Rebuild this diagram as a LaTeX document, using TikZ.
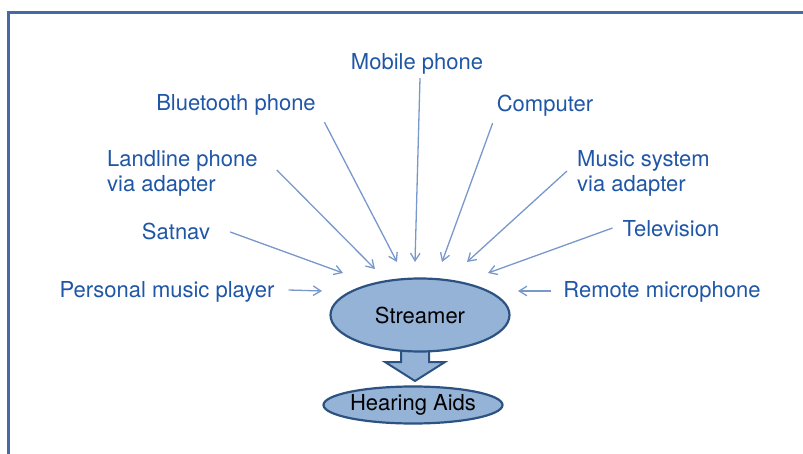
\documentclass[tikz,border=0pt]{standalone}
\usepackage{fontspec}
\setmainfont{TeX Gyre Heros}
\usetikzlibrary{arrows.meta, shapes.geometric}
\definecolor{txtblue}{RGB}{31,86,166}
\definecolor{feedblue}{RGB}{120,152,204}
\definecolor{hubfill}{RGB}{149,179,215}
\definecolor{hubline}{RGB}{44,82,130}
\definecolor{framecol}{RGB}{70,106,166}
\begin{document}
\begin{tikzpicture}[x=1pt, y=-1pt,
  lab/.style={text=txtblue, inner sep=0pt, text height=15.5pt, text depth=4.5pt,
    font=\fontsize{22}{25}\selectfont},
  feed/.style={feedblue, line width=1.3pt, -{Straight Barb[angle=64:9pt]}},
  hub/.style={ellipse, draw=hubline, line width=2.2pt, fill=hubfill, inner sep=0pt,
    font=\fontsize{22}{25}\selectfont},
  blk/.style={draw=hubline, line width=2pt, fill=hubfill, line join=miter}]
\useasboundingbox (0,0) rectangle (803,454);
\draw[framecol, line width=3pt] (8,456) -- (8,13) -- (805,13);
% sources
\node[lab] (mob) at (417,64) {Mobile phone};
\node[lab] (bt) at (236,105) {Bluetooth phone};
\node[lab] (cmp) at (545,106) {Computer};
\node[lab, anchor=west, align=left, text height=, text depth=] (ll) at (107,173) {Landline phone\\via adapter};
\node[lab, anchor=west, align=left, text height=, text depth=] (mus) at (577,173) {Music system\\via adapter};
\node[lab] (sat) at (176,234) {Satnav};
\node[lab] (tv) at (671,231) {Television};
\node[lab] (pmp) at (167,292) {Personal music player};
\node[lab] (rm) at (662,292) {Remote microphone};
% block arrow, then the two ellipses
\filldraw[blk] (401,345) -- (429,345) -- (429,362) -- (445,362) -- (415,381)
  -- (385,362) -- (401,362) -- cycle;
\node[hub, minimum width=179pt, minimum height=73pt] (str) at (420,315) {Streamer};
\node[hub, minimum width=179pt, minimum height=37pt] (ha) at (413,405) {Hearing Aids};
% where the feeds stop
\coordinate (pmp-in) at (322,291);
\coordinate (sat-in) at (343,273);
\coordinate (ll-in) at (375,269);
\coordinate (bt-in) at (397,262);
\coordinate (mob-in) at (415,262);
\coordinate (cmp-in) at (442,262);
\coordinate (mus-in) at (467,262);
\coordinate (tv-in) at (488,273);
\coordinate (rm-in) at (518,291);
\foreach \n/\a/\dx/\dy in {mob/south/3/4, bt/south east/8.5/7, cmp/south west/-4/7,
    ll/east/19/-3, mus/west/-10/-2, sat/east/20/-2, tv/west/-10/-3,
    pmp/east/14/-2, rm/west/-12/-1}
  \draw[feed] ([shift={(\dx,\dy)}]\n.\a) -- (\n-in);
\end{tikzpicture}
\end{document}
